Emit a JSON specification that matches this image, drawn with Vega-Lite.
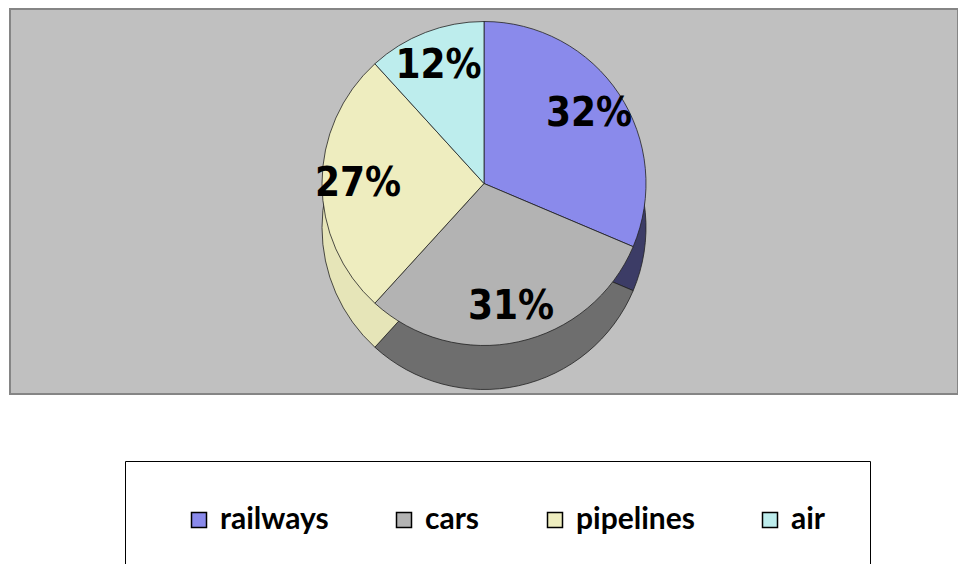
{
  "$schema": "https://vega.github.io/schema/vega-lite/v6.json",
  "width": 948,
  "height": 385,
  "autosize": {"type": "none"},
  "padding": {"left": 10, "top": 9, "right": 0, "bottom": 170},
  "background": "#ffffff",
  "data": {
    "values": [
      {"mode": "railways", "share": 0.32, "idx": 1},
      {"mode": "cars", "share": 0.31, "idx": 2},
      {"mode": "pipelines", "share": 0.27, "idx": 3},
      {"mode": "air", "share": 0.12, "idx": 4}
    ]
  },
  "layer": [
    {
      "data": {"values": [{"box": "plot"}]},
      "mark": {"type": "rect", "fill": "#c0c0c0", "stroke": "#858585", "strokeWidth": 2},
      "encoding": {}
    },
    {
      "mark": {"type": "arc", "outerRadius": 162, "yOffset": 26, "stroke": "#222222", "strokeWidth": 0.8},
      "encoding": {
        "theta": {"field": "share", "type": "quantitative", "stack": true},
        "order": {"field": "idx", "type": "quantitative"},
        "color": {
          "field": "mode", "type": "nominal", "legend": null,
          "scale": {"domain": ["railways", "cars", "pipelines", "air"], "range": ["#3c3c66", "#6e6e6e", "#e6e5b8", "#93c4c4"]}
        }
      }
    },
    {
      "mark": {"type": "arc", "outerRadius": 162, "yOffset": -18, "stroke": "#222222", "strokeWidth": 0.8},
      "encoding": {
        "theta": {"field": "share", "type": "quantitative", "stack": true},
        "order": {"field": "idx", "type": "quantitative"},
        "color": {
          "field": "mode", "type": "nominal",
          "scale": {"domain": ["railways", "cars", "pipelines", "air"], "range": ["#8a8aeb", "#b3b3b3", "#eeedbf", "#bdeded"]},
          "legend": {
            "title": null,
            "orient": "none",
            "legendX": 115,
            "legendY": 452,
            "direction": "horizontal",
            "padding": 44,
            "symbolOffset": 15,
            "columnPadding": 45,
            "strokeColor": "#000000",
            "fillColor": "#ffffff",
            "symbolType": "square",
            "symbolSize": 225,
            "symbolStrokeColor": "#000000",
            "symbolStrokeWidth": 1.5,
            "symbolOpacity": 1,
            "labelFont": "Lato",
            "labelFontSize": 30,
            "labelFontWeight": "bold",
            "labelColor": "#000000",
            "labelOffset": 6,
            "labelLimit": 300
          }
        }
      }
    },
    {
      "mark": {"type": "text", "radius": 126, "yOffset": -18, "font": "DejaVu Sans Condensed", "fontSize": 40, "fontWeight": "bold", "color": "#000000"},
      "encoding": {
        "theta": {"field": "share", "type": "quantitative", "stack": true},
        "order": {"field": "idx", "type": "quantitative"},
        "text": {"field": "share", "type": "quantitative", "format": ".0%"}
      }
    }
  ],
  "resolve": {"scale": {"color": "independent"}}
}
